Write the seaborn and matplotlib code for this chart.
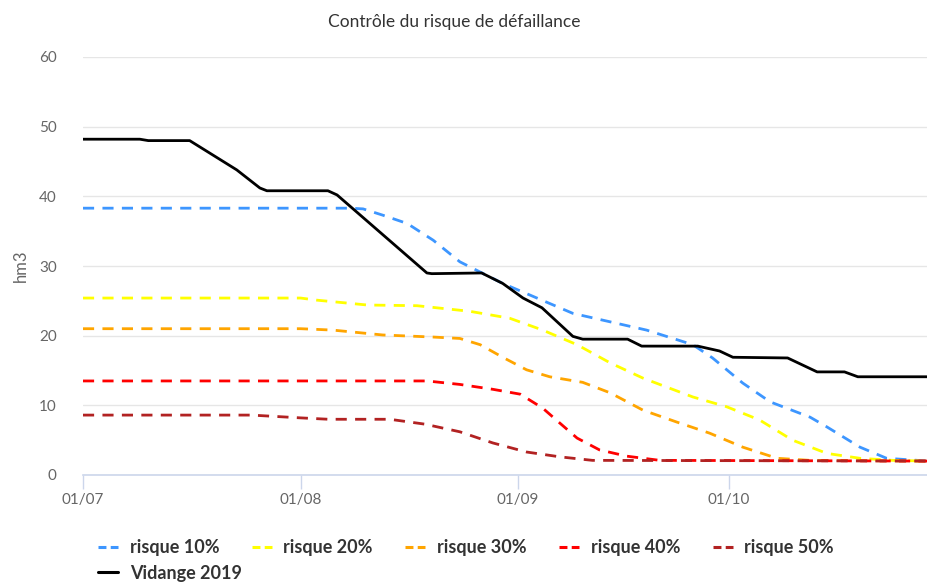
import pandas as pd
import seaborn as sns
import matplotlib.pyplot as plt
import matplotlib.dates as mdates
from matplotlib.lines import Line2D

# --- DONNEES (jours depuis le 01/07/2019, volume en hm3) ---
debut = pd.Timestamp('2019-07-01')
jour_fin = 120.4

jours_10 = [0, 38, 39.9, 42.7, 46.2, 49.9, 53.7, 59.8, 69.8, 80.3, 86.9, 89.7, 94.0, 97.9, 103.6, 106.0, 110.7, 114.5, 120.4]
risque_10 = [38.3, 38.3, 38.2, 37.3, 36.1, 33.7, 30.6, 27.5, 23.2, 20.8, 18.7, 16.8, 13.2, 10.5, 8.3, 6.9, 4.0, 2.4, 2.0]

jours_20 = [0, 31, 33.3, 40.5, 47.6, 55.1, 60.8, 65.5, 70.4, 75.1, 79.8, 86.9, 91.7, 96.4, 101.1, 106.0, 110.7, 115.4, 120.4]
risque_20 = [25.4, 25.4, 25.1, 24.4, 24.3, 23.5, 22.5, 20.8, 18.7, 16.1, 13.9, 11.2, 9.8, 7.9, 5.0, 3.1, 2.4, 2.1, 2.0]

jours_30 = [0, 31, 35.6, 42.7, 49.9, 53.7, 56.6, 59.8, 63.2, 66.5, 71.2, 75.1, 79.8, 84.6, 89.3, 94.0, 98.9, 103.6, 120.4]
risque_30 = [21.0, 21.0, 20.8, 20.1, 19.8, 19.6, 18.7, 16.9, 15.1, 14.1, 13.3, 11.8, 9.3, 7.6, 6.0, 4.0, 2.4, 2.1, 2.0]

jours_40 = [0, 49, 53.7, 58.4, 62.3, 65.5, 68.0, 70.4, 73.6, 77.5, 82.2, 120.4]
risque_40 = [13.5, 13.5, 13.0, 12.3, 11.6, 9.6, 7.4, 5.3, 3.6, 2.7, 2.1, 2.0]

jours_50 = [0, 24, 31, 35, 43.7, 48.7, 53.7, 58.4, 63.2, 68.0, 72.6, 120.4]
risque_50 = [8.6, 8.6, 8.2, 8.0, 8.0, 7.3, 6.2, 4.6, 3.3, 2.6, 2.1, 2.0]

jours_vid = [0, 8.1, 9.3, 15.2, 21.9, 25.2, 26.2, 34.9, 36.2, 49.0, 49.7, 56.8, 59.8, 62.7, 65.4, 69.8,
             71.2, 77.6, 79.6, 87.6, 90.7, 92.6, 100.4, 104.6, 108.5, 110.4, 120.4]
vidange = [48.2, 48.2, 48.0, 48.0, 43.8, 41.2, 40.8, 40.8, 40.2, 29.0, 28.9, 29.0, 27.5, 25.4, 24.0, 19.9,
           19.5, 19.5, 18.5, 18.5, 17.8, 16.9, 16.8, 14.8, 14.8, 14.1, 14.1]

series = [
    ('risque 10%', jours_10, risque_10, '#3d96ff', True),
    ('risque 20%', jours_20, risque_20, '#ffff00', True),
    ('risque 30%', jours_30, risque_30, '#ffa500', True),
    ('risque 40%', jours_40, risque_40, '#ff0000', True),
    ('risque 50%', jours_50, risque_50, '#b22222', True),
    ('Vidange 2019', jours_vid, vidange, '#000000', False),
]

# --- GRAPHIQUE ---
sns.set_style('white')
plt.rcParams['font.family'] = ['Lato', 'DejaVu Sans']

fig = plt.figure(figsize=(9.28, 5.83), dpi=100)
ax = fig.add_axes([83 / 928, 1 - 475 / 583, 1 - 83 / 928, (475 - 57) / 583])

poignees = {}
for nom, jours, valeurs, couleur, tirets in series:
    df = pd.DataFrame({'date': debut + pd.to_timedelta(jours, unit='D'), 'valeur': valeurs})
    ls = (0, (4, 3)) if tirets else '-'
    sns.lineplot(data=df, x='date', y='valeur', ax=ax, color=couleur, linewidth=2,
                 linestyle=ls, estimator=None, legend=False, zorder=3)
    poignees[nom] = Line2D([], [], color=couleur, linewidth=2.2,
                           linestyle=(0, (2.6, 1.4)) if tirets else '-')

ax.set_ylim(0, 60)
ax.set_yticks(range(0, 61, 10))
ax.set_xlim(debut, debut + pd.Timedelta(days=jour_fin))
ax.xaxis.set_major_locator(mdates.MonthLocator())
ax.xaxis.set_major_formatter(mdates.DateFormatter('%d/%m'))

ax.grid(axis='y', color='#e6e6e6', linewidth=1)
ax.grid(axis='x', visible=False)
for cote in ['top', 'right', 'left']:
    ax.spines[cote].set_visible(False)
ax.spines['bottom'].set_color('#ccd6eb')
ax.spines['bottom'].set_linewidth(1.2)
ax.tick_params(axis='x', direction='out', length=10, width=1, color='#ccd6eb',
               labelcolor='#666666', labelsize=11, pad=3, bottom=True)
ax.tick_params(axis='y', length=0, labelcolor='#666666', labelsize=11, pad=19)

ax.set_xlabel('')
ax.set_ylabel('hm3', color='#666666', fontsize=12, labelpad=7)

fig.text(0.49, 1 - 22 / 583, 'Contrôle du risque de défaillance', ha='center', va='center',
         fontsize=12.5, color='#333333')

# légende : 5 risques sur la première ligne, la vidange en dessous
style_leg = dict(frameon=False, handlelength=1.1, handletextpad=0.65, columnspacing=1.8,
                 borderpad=0, borderaxespad=0, prop={'size': 13, 'weight': 'bold'})
noms_risque = [s[0] for s in series[:5]]
leg1 = fig.legend([poignees[n] for n in noms_risque], noms_risque, ncol=5, loc='center left',
                  bbox_to_anchor=(98 / 928, 1 - 548 / 583), **style_leg)
leg2 = fig.legend([poignees['Vidange 2019']], ['Vidange 2019'], loc='center left',
                  bbox_to_anchor=(98 / 928, 1 - 573 / 583), **style_leg)
for leg in (leg1, leg2):
    for t in leg.get_texts():
        t.set_color('#333333')

plt.savefig('out.png', dpi=100)
plt.close(fig)
